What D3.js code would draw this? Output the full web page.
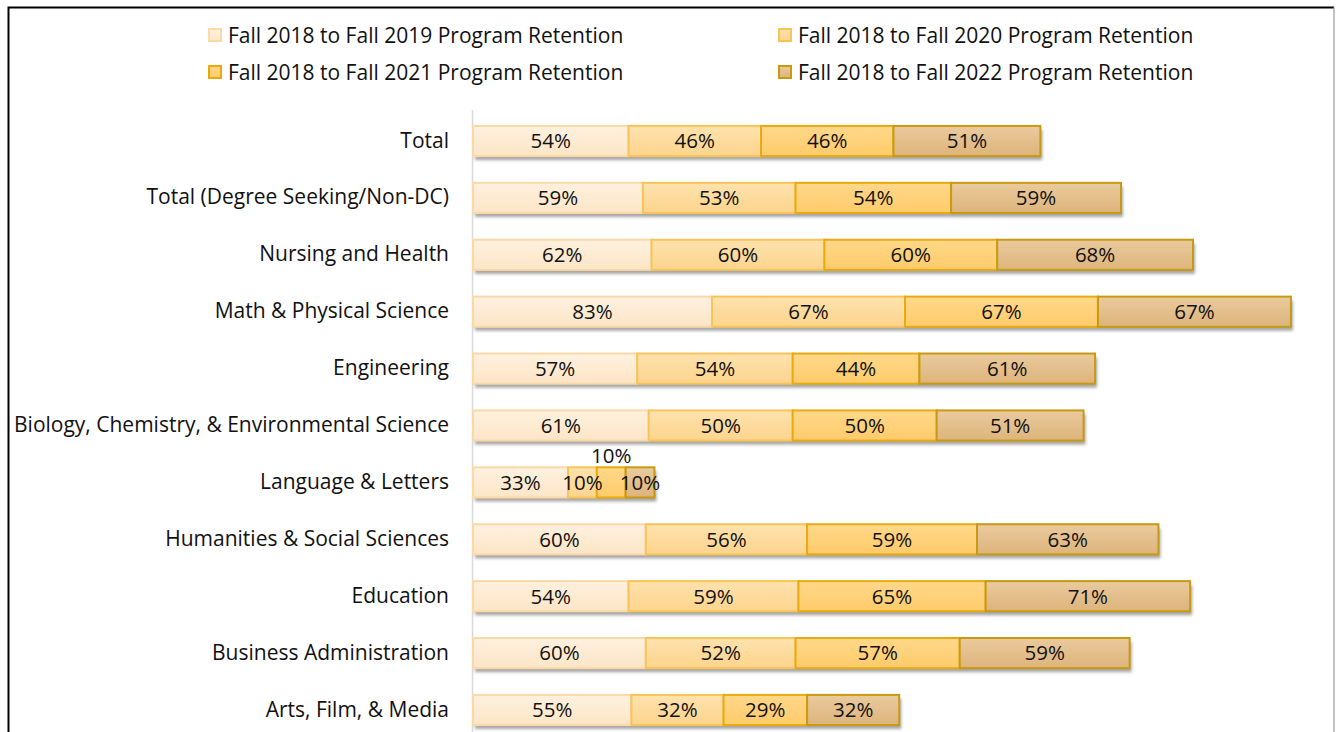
<!DOCTYPE html>
<html><head><meta charset="utf-8">
<script src="https://cdn.jsdelivr.net/npm/d3@7"></script>
<style>body{margin:0;background:#fff}svg{display:block}text{font-family:"Open Sans",Lato,sans-serif}</style>
</head><body>
<svg id="c" width="1338" height="732"></svg>
<script>
const categories = ["Total","Total (Degree Seeking/Non-DC)","Nursing and Health","Math & Physical Science","Engineering","Biology, Chemistry, & Environmental Science","Language & Letters","Humanities & Social Sciences","Education","Business Administration","Arts, Film, & Media"];
const seriesNames = ["Fall 2018 to Fall 2019 Program Retention","Fall 2018 to Fall 2020 Program Retention","Fall 2018 to Fall 2021 Program Retention","Fall 2018 to Fall 2022 Program Retention"];
const fall2019 = [54,59,62,83,57,61,33,60,54,60,55];
const fall2020 = [46,53,60,67,54,50,10,56,59,52,32];
const fall2021 = [46,54,60,67,44,50,10,59,65,57,29];
const fall2022 = [51,59,68,67,61,51,10,63,71,59,32];
const seriesValues = [fall2019,fall2020,fall2021,fall2022];
const fillTop = ["#FEF1DF","#FEE2AE","#FFD88A","#EACA9E"];
const fillBot = ["#FDE5C6","#FDD48C","#FFCB6A","#DDB47B"];
const strokes = ["#FAD8A8","#F8C457","#E9AA10","#C89A12"];

const svg = d3.select("#c");
const defs = svg.append("defs");
fillTop.forEach((c,i)=>{
  const g = defs.append("linearGradient").attr("id","g"+i).attr("x1",0).attr("y1",0).attr("x2",0).attr("y2",1);
  g.append("stop").attr("offset","0%").attr("stop-color",c);
  g.append("stop").attr("offset","100%").attr("stop-color",fillBot[i]);
});
const f = defs.append("filter").attr("id","sh").attr("x","-5%").attr("y","-20%").attr("width","110%").attr("height","160%");
f.append("feDropShadow").attr("dx",2).attr("dy",4).attr("stdDeviation",1.6).attr("flood-color","#000").attr("flood-opacity",0.35);

svg.append("path").attr("d","M8.5,732 V7.5 H1334").attr("fill","none").attr("stroke","#000").attr("stroke-width",2);
svg.append("line").attr("x1",1334).attr("x2",1334).attr("y1",7).attr("y2",732).attr("stroke","#9a9a9a").attr("stroke-width",1.2);

const x = d3.scaleLinear().domain([0,100]).range([473,761]);
const y = d3.scaleBand().domain(categories).range([99.2,751.8]).paddingInner(0.47).paddingOuter(0.47);

svg.append("line").attr("x1",472.5).attr("x2",472.5).attr("y1",110).attr("y2",732).attr("stroke","#d9d9d9").attr("stroke-width",1.5);

const stacked = d3.stack().keys(d3.range(4))(categories.map((c,i)=>seriesValues.map(s=>s[i])));

const totals = categories.map((c,i)=>d3.sum(seriesValues,s=>s[i]));
svg.append("g").selectAll("rect").data(categories).join("rect")
  .attr("x",x(0)).attr("y",d=>y(d)).attr("width",(d,i)=>x(totals[i])-x(0)).attr("height",y.bandwidth())
  .attr("fill","#fff").attr("filter","url(#sh)");

stacked.forEach((layer,si)=>{
  svg.append("g").selectAll("rect").data(layer).join("rect")
    .attr("x",d=>x(d[0])).attr("y",(d,i)=>y(categories[i])).attr("width",d=>x(d[1])-x(d[0])).attr("height",y.bandwidth())
    .attr("fill","url(#g"+si+")").attr("stroke",strokes[si]).attr("stroke-width",2);
});
stacked.forEach((layer,si)=>{
  svg.append("g").selectAll("text").data(layer).join("text")
    .attr("x",d=>(x(d[0])+x(d[1]))/2)
    .attr("y",(d,i)=>{
      const w = x(d[1])-x(d[0]);
      const lifted = w < 32 && si===2;
      return y(categories[i])+y.bandwidth()/2 + (lifted ? -27 : 0);
    })
    .attr("dy","0.36em").attr("text-anchor","middle").attr("font-size",20.5).attr("fill","#111")
    .text(d=>(d[1]-d[0])+"%");
});

svg.append("g").selectAll("text").data(categories).join("text")
  .attr("x",449).attr("y",d=>y(d)+y.bandwidth()/2 - 1).attr("dy","0.36em").attr("text-anchor","end")
  .attr("font-size",21).attr("fill","#111").text(d=>d);

const lg = svg.append("g");
seriesNames.forEach((n,i)=>{
  const lx = i%2===0 ? 208 : 778, ly = i<2 ? 35 : 72;
  lg.append("rect").attr("x",lx+1).attr("y",ly-6).attr("width",12).attr("height",12)
    .attr("fill","url(#g"+i+")").attr("stroke",strokes[i]).attr("stroke-width",2);
  lg.append("text").attr("x",lx+20).attr("y",ly).attr("dy","0.36em").attr("font-size",21).attr("fill","#111").text(n);
});
</script>
</body></html>
